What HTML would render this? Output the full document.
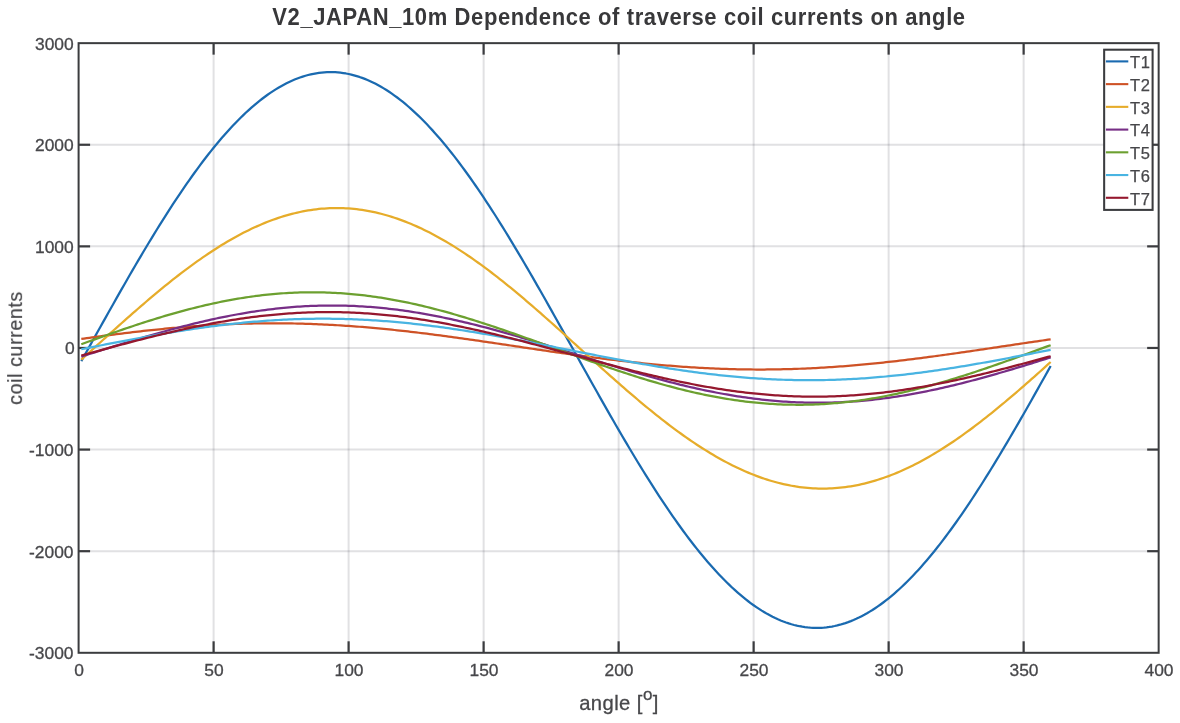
<!DOCTYPE html><html><head><meta charset="utf-8"><title>chart</title><style>
html,body{margin:0;padding:0;background:#fff;}body{width:1180px;height:723px;position:relative;overflow:hidden;font-family:"Liberation Sans",sans-serif;color:#47474a;}
.t{position:absolute;white-space:nowrap;line-height:1;will-change:transform;}
.xt{font-size:17.4px;transform:translateX(-50%);top:662.0px;-webkit-text-stroke:0.3px currentColor;}
.yt{font-size:17.4px;-webkit-text-stroke:0.3px currentColor;text-align:right;right:1106.5px;transform:translateY(-50%);}
.lg{font-size:16.5px;letter-spacing:0.7px;-webkit-text-stroke:0.25px currentColor;left:1129.6px;transform:translateY(-50%);}
</style></head><body>
<svg width="1180" height="723" viewBox="0 0 1180 723" style="position:absolute;left:0;top:0">
<rect x="0" y="0" width="1180" height="723" fill="#fff"/>
<line x1="213.61" y1="43.15" x2="213.61" y2="652.80" stroke="rgba(40,44,56,0.14)" stroke-width="2"/>
<line x1="348.61" y1="43.15" x2="348.61" y2="652.80" stroke="rgba(40,44,56,0.14)" stroke-width="2"/>
<line x1="483.62" y1="43.15" x2="483.62" y2="652.80" stroke="rgba(40,44,56,0.14)" stroke-width="2"/>
<line x1="618.63" y1="43.15" x2="618.63" y2="652.80" stroke="rgba(40,44,56,0.14)" stroke-width="2"/>
<line x1="753.63" y1="43.15" x2="753.63" y2="652.80" stroke="rgba(40,44,56,0.14)" stroke-width="2"/>
<line x1="888.64" y1="43.15" x2="888.64" y2="652.80" stroke="rgba(40,44,56,0.14)" stroke-width="2"/>
<line x1="1023.64" y1="43.15" x2="1023.64" y2="652.80" stroke="rgba(40,44,56,0.14)" stroke-width="2"/>
<line x1="78.60" y1="551.19" x2="1158.65" y2="551.19" stroke="rgba(40,44,56,0.14)" stroke-width="2"/>
<line x1="78.60" y1="449.58" x2="1158.65" y2="449.58" stroke="rgba(40,44,56,0.14)" stroke-width="2"/>
<line x1="78.60" y1="347.97" x2="1158.65" y2="347.97" stroke="rgba(40,44,56,0.14)" stroke-width="2"/>
<line x1="78.60" y1="246.37" x2="1158.65" y2="246.37" stroke="rgba(40,44,56,0.14)" stroke-width="2"/>
<line x1="78.60" y1="144.76" x2="1158.65" y2="144.76" stroke="rgba(40,44,56,0.14)" stroke-width="2"/>
<line x1="213.61" y1="43.15" x2="213.61" y2="54.65" stroke="#3b3c3f" stroke-width="2.2"/>
<line x1="213.61" y1="652.80" x2="213.61" y2="641.30" stroke="#3b3c3f" stroke-width="2.2"/>
<line x1="348.61" y1="43.15" x2="348.61" y2="54.65" stroke="#3b3c3f" stroke-width="2.2"/>
<line x1="348.61" y1="652.80" x2="348.61" y2="641.30" stroke="#3b3c3f" stroke-width="2.2"/>
<line x1="483.62" y1="43.15" x2="483.62" y2="54.65" stroke="#3b3c3f" stroke-width="2.2"/>
<line x1="483.62" y1="652.80" x2="483.62" y2="641.30" stroke="#3b3c3f" stroke-width="2.2"/>
<line x1="618.63" y1="43.15" x2="618.63" y2="54.65" stroke="#3b3c3f" stroke-width="2.2"/>
<line x1="618.63" y1="652.80" x2="618.63" y2="641.30" stroke="#3b3c3f" stroke-width="2.2"/>
<line x1="753.63" y1="43.15" x2="753.63" y2="54.65" stroke="#3b3c3f" stroke-width="2.2"/>
<line x1="753.63" y1="652.80" x2="753.63" y2="641.30" stroke="#3b3c3f" stroke-width="2.2"/>
<line x1="888.64" y1="43.15" x2="888.64" y2="54.65" stroke="#3b3c3f" stroke-width="2.2"/>
<line x1="888.64" y1="652.80" x2="888.64" y2="641.30" stroke="#3b3c3f" stroke-width="2.2"/>
<line x1="1023.64" y1="43.15" x2="1023.64" y2="54.65" stroke="#3b3c3f" stroke-width="2.2"/>
<line x1="1023.64" y1="652.80" x2="1023.64" y2="641.30" stroke="#3b3c3f" stroke-width="2.2"/>
<line x1="78.60" y1="551.19" x2="90.10" y2="551.19" stroke="#3b3c3f" stroke-width="2.2"/>
<line x1="1158.65" y1="551.19" x2="1147.15" y2="551.19" stroke="#3b3c3f" stroke-width="2.2"/>
<line x1="78.60" y1="449.58" x2="90.10" y2="449.58" stroke="#3b3c3f" stroke-width="2.2"/>
<line x1="1158.65" y1="449.58" x2="1147.15" y2="449.58" stroke="#3b3c3f" stroke-width="2.2"/>
<line x1="78.60" y1="347.97" x2="90.10" y2="347.97" stroke="#3b3c3f" stroke-width="2.2"/>
<line x1="1158.65" y1="347.97" x2="1147.15" y2="347.97" stroke="#3b3c3f" stroke-width="2.2"/>
<line x1="78.60" y1="246.37" x2="90.10" y2="246.37" stroke="#3b3c3f" stroke-width="2.2"/>
<line x1="1158.65" y1="246.37" x2="1147.15" y2="246.37" stroke="#3b3c3f" stroke-width="2.2"/>
<line x1="78.60" y1="144.76" x2="90.10" y2="144.76" stroke="#3b3c3f" stroke-width="2.2"/>
<line x1="1158.65" y1="144.76" x2="1147.15" y2="144.76" stroke="#3b3c3f" stroke-width="2.2"/>
<rect x="78.60" y="43.15" width="1080.05" height="609.65" fill="none" stroke="#3b3c3f" stroke-width="2.0"/>
<polyline points="81.30,361.16 84.00,356.31 86.70,351.46 89.40,346.61 92.10,341.76 94.80,336.92 97.50,332.07 100.20,327.24 102.90,322.41 105.60,317.58 108.30,312.77 111.00,307.97 113.70,303.18 116.40,298.41 119.10,293.65 121.80,288.91 124.50,284.19 127.20,279.49 129.90,274.81 132.60,270.15 135.30,265.52 138.00,260.91 140.70,256.33 143.40,251.78 146.10,247.25 148.80,242.76 151.50,238.31 154.20,233.88 156.90,229.49 159.60,225.14 162.30,220.83 165.00,216.55 167.70,212.32 170.40,208.13 173.10,203.98 175.80,199.88 178.50,195.82 181.20,191.81 183.90,187.84 186.61,183.93 189.31,180.06 192.01,176.25 194.71,172.49 197.41,168.79 200.11,165.14 202.81,161.55 205.51,158.01 208.21,154.53 210.91,151.12 213.61,147.76 216.31,144.46 219.01,141.23 221.71,138.06 224.41,134.96 227.11,131.92 229.81,128.95 232.51,126.04 235.21,123.20 237.91,120.44 240.61,117.74 243.31,115.11 246.01,112.55 248.71,110.07 251.41,107.66 254.11,105.32 256.81,103.06 259.51,100.87 262.21,98.76 264.91,96.73 267.61,94.77 270.31,92.89 273.01,91.09 275.71,89.37 278.41,87.73 281.11,86.16 283.81,84.68 286.51,83.28 289.21,81.96 291.91,80.72 294.61,79.56 297.31,78.49 300.01,77.50 302.71,76.59 305.41,75.76 308.11,75.02 310.81,74.36 313.51,73.79 316.21,73.30 318.91,72.89 321.61,72.57 324.31,72.33 327.01,72.18 329.71,72.11 332.41,72.13 335.11,72.23 337.81,72.42 340.51,72.69 343.21,73.04 345.91,73.48 348.61,74.01 351.31,74.61 354.01,75.31 356.71,76.08 359.41,76.94 362.11,77.88 364.81,78.91 367.51,80.01 370.21,81.20 372.91,82.48 375.61,83.83 378.31,85.26 381.01,86.78 383.71,88.37 386.41,90.05 389.11,91.80 391.81,93.63 394.51,95.55 397.21,97.53 399.91,99.60 402.62,101.74 405.32,103.96 408.02,106.25 410.72,108.62 413.42,111.06 416.12,113.57 418.82,116.15 421.52,118.81 424.22,121.53 426.92,124.33 429.62,127.19 432.32,130.13 435.02,133.13 437.72,136.19 440.42,139.32 443.12,142.52 445.82,145.78 448.52,149.10 451.22,152.48 453.92,155.92 456.62,159.42 459.32,162.98 462.02,166.59 464.72,170.27 467.42,173.99 470.12,177.77 472.82,181.60 475.52,185.49 478.22,189.42 480.92,193.40 483.62,197.43 486.32,201.51 489.02,205.63 491.72,209.80 494.42,214.01 497.12,218.26 499.82,222.55 502.52,226.88 505.22,231.24 507.92,235.65 510.62,240.09 513.32,244.56 516.02,249.06 518.72,253.59 521.42,258.16 524.12,262.75 526.82,267.37 529.52,272.01 532.22,276.68 534.92,281.37 537.62,286.08 540.32,290.81 543.02,295.55 545.72,300.32 548.42,305.10 551.12,309.89 553.82,314.70 556.52,319.51 559.22,324.34 561.92,329.17 564.62,334.01 567.32,338.85 570.02,343.70 572.72,348.55 575.42,353.40 578.12,358.25 580.82,363.10 583.52,367.94 586.22,372.78 588.92,377.61 591.62,382.43 594.32,387.24 597.02,392.04 599.72,396.83 602.42,401.60 605.12,406.36 607.82,411.10 610.52,415.82 613.22,420.53 615.92,425.21 618.63,429.86 621.33,434.50 624.03,439.11 626.73,443.69 629.43,448.24 632.13,452.76 634.83,457.25 637.53,461.71 640.23,466.13 642.93,470.52 645.63,474.87 648.33,479.19 651.03,483.46 653.73,487.69 656.43,491.89 659.13,496.04 661.83,500.14 664.53,504.20 667.23,508.21 669.93,512.17 672.63,516.09 675.33,519.95 678.03,523.76 680.73,527.52 683.43,531.22 686.13,534.87 688.83,538.47 691.53,542.00 694.23,545.48 696.93,548.90 699.63,552.25 702.33,555.55 705.03,558.78 707.73,561.95 710.43,565.06 713.13,568.10 715.83,571.07 718.53,573.97 721.23,576.81 723.93,579.58 726.63,582.28 729.33,584.90 732.03,587.46 734.73,589.94 737.43,592.35 740.13,594.69 742.83,596.95 745.53,599.14 748.23,601.25 750.93,603.29 753.63,605.24 756.33,607.12 759.03,608.92 761.73,610.65 764.43,612.29 767.13,613.85 769.83,615.33 772.53,616.74 775.23,618.06 777.93,619.30 780.63,620.45 783.33,621.53 786.03,622.52 788.73,623.43 791.43,624.25 794.13,625.00 796.83,625.65 799.53,626.23 802.23,626.72 804.93,627.12 807.63,627.45 810.33,627.68 813.03,627.83 815.73,627.90 818.43,627.89 821.13,627.78 823.83,627.60 826.53,627.33 829.23,626.97 831.93,626.53 834.64,626.01 837.34,625.40 840.04,624.71 842.74,623.93 845.44,623.07 848.14,622.13 850.84,621.11 853.54,620.00 856.24,618.81 858.94,617.54 861.64,616.18 864.34,614.75 867.04,613.24 869.74,611.64 872.44,609.97 875.14,608.21 877.84,606.38 880.54,604.47 883.24,602.48 885.94,600.42 888.64,598.27 891.34,596.06 894.04,593.77 896.74,591.40 899.44,588.96 902.14,586.45 904.84,583.86 907.54,581.21 910.24,578.48 912.94,575.68 915.64,572.82 918.34,569.89 921.04,566.89 923.74,563.82 926.44,560.69 929.14,557.50 931.84,554.24 934.54,550.92 937.24,547.54 939.94,544.10 942.64,540.60 945.34,537.04 948.04,533.42 950.74,529.75 953.44,526.02 956.14,522.24 958.84,518.41 961.54,514.53 964.24,510.59 966.94,506.61 969.64,502.58 972.34,498.50 975.04,494.38 977.74,490.21 980.44,486.01 983.14,481.76 985.84,477.47 988.54,473.14 991.24,468.77 993.94,464.37 996.64,459.93 999.34,455.46 1002.04,450.95 1004.74,446.42 1007.44,441.86 1010.14,437.27 1012.84,432.65 1015.54,428.00 1018.24,423.34 1020.94,418.65 1023.64,413.94 1026.34,409.21 1029.04,404.46 1031.74,399.70 1034.44,394.92 1037.14,390.12 1039.84,385.32 1042.54,380.50 1045.24,375.68 1047.94,370.84 1050.65,366.00" fill="none" stroke="#1A6AB0" stroke-width="2.25" stroke-linejoin="round"/>
<polyline points="81.30,338.95 84.00,338.57 86.70,338.19 89.40,337.82 92.10,337.44 94.80,337.07 97.50,336.70 100.20,336.34 102.90,335.98 105.60,335.62 108.30,335.26 111.00,334.91 113.70,334.56 116.40,334.22 119.10,333.88 121.80,333.54 124.50,333.21 127.20,332.88 129.90,332.55 132.60,332.23 135.30,331.92 138.00,331.60 140.70,331.30 143.40,330.99 146.10,330.69 148.80,330.40 151.50,330.11 154.20,329.83 156.90,329.55 159.60,329.28 162.30,329.01 165.00,328.74 167.70,328.49 170.40,328.23 173.10,327.99 175.80,327.75 178.50,327.51 181.20,327.28 183.90,327.06 186.61,326.84 189.31,326.63 192.01,326.42 194.71,326.22 197.41,326.03 200.11,325.84 202.81,325.66 205.51,325.48 208.21,325.32 210.91,325.15 213.61,325.00 216.31,324.85 219.01,324.71 221.71,324.57 224.41,324.44 227.11,324.32 229.81,324.20 232.51,324.09 235.21,323.99 237.91,323.89 240.61,323.81 243.31,323.72 246.01,323.65 248.71,323.58 251.41,323.52 254.11,323.47 256.81,323.42 259.51,323.38 262.21,323.35 264.91,323.32 267.61,323.30 270.31,323.29 273.01,323.28 275.71,323.29 278.41,323.30 281.11,323.31 283.81,323.33 286.51,323.37 289.21,323.40 291.91,323.45 294.61,323.50 297.31,323.56 300.01,323.62 302.71,323.69 305.41,323.77 308.11,323.86 310.81,323.95 313.51,324.05 316.21,324.16 318.91,324.27 321.61,324.39 324.31,324.52 327.01,324.65 329.71,324.79 332.41,324.94 335.11,325.09 337.81,325.25 340.51,325.42 343.21,325.59 345.91,325.77 348.61,325.95 351.31,326.14 354.01,326.34 356.71,326.54 359.41,326.75 362.11,326.97 364.81,327.19 367.51,327.42 370.21,327.65 372.91,327.89 375.61,328.13 378.31,328.38 381.01,328.64 383.71,328.90 386.41,329.17 389.11,329.44 391.81,329.72 394.51,330.00 397.21,330.28 399.91,330.58 402.62,330.87 405.32,331.17 408.02,331.48 410.72,331.79 413.42,332.11 416.12,332.42 418.82,332.75 421.52,333.08 424.22,333.41 426.92,333.74 429.62,334.08 432.32,334.43 435.02,334.77 437.72,335.12 440.42,335.48 443.12,335.83 445.82,336.19 448.52,336.56 451.22,336.92 453.92,337.29 456.62,337.67 459.32,338.04 462.02,338.42 464.72,338.80 467.42,339.18 470.12,339.56 472.82,339.95 475.52,340.34 478.22,340.73 480.92,341.12 483.62,341.52 486.32,341.91 489.02,342.31 491.72,342.70 494.42,343.10 497.12,343.50 499.82,343.90 502.52,344.31 505.22,344.71 507.92,345.11 510.62,345.51 513.32,345.92 516.02,346.32 518.72,346.72 521.42,347.13 524.12,347.53 526.82,347.93 529.52,348.33 532.22,348.74 534.92,349.14 537.62,349.54 540.32,349.94 543.02,350.33 545.72,350.73 548.42,351.13 551.12,351.52 553.82,351.91 556.52,352.30 559.22,352.69 561.92,353.08 564.62,353.47 567.32,353.85 570.02,354.23 572.72,354.61 575.42,354.98 578.12,355.36 580.82,355.73 583.52,356.10 586.22,356.46 588.92,356.82 591.62,357.18 594.32,357.54 597.02,357.89 599.72,358.24 602.42,358.58 605.12,358.92 607.82,359.26 610.52,359.59 613.22,359.92 615.92,360.25 618.63,360.57 621.33,360.88 624.03,361.20 626.73,361.50 629.43,361.81 632.13,362.11 634.83,362.40 637.53,362.69 640.23,362.97 642.93,363.25 645.63,363.52 648.33,363.79 651.03,364.06 653.73,364.31 656.43,364.57 659.13,364.81 661.83,365.05 664.53,365.29 667.23,365.52 669.93,365.74 672.63,365.96 675.33,366.17 678.03,366.38 680.73,366.58 683.43,366.77 686.13,366.96 688.83,367.14 691.53,367.32 694.23,367.48 696.93,367.65 699.63,367.80 702.33,367.95 705.03,368.09 707.73,368.23 710.43,368.36 713.13,368.48 715.83,368.60 718.53,368.71 721.23,368.81 723.93,368.91 726.63,368.99 729.33,369.08 732.03,369.15 734.73,369.22 737.43,369.28 740.13,369.33 742.83,369.38 745.53,369.42 748.23,369.45 750.93,369.48 753.63,369.50 756.33,369.51 759.03,369.52 761.73,369.51 764.43,369.50 767.13,369.49 769.83,369.47 772.53,369.43 775.23,369.40 777.93,369.35 780.63,369.30 783.33,369.24 786.03,369.18 788.73,369.11 791.43,369.03 794.13,368.94 796.83,368.85 799.53,368.75 802.23,368.64 804.93,368.53 807.63,368.41 810.33,368.28 813.03,368.15 815.73,368.01 818.43,367.86 821.13,367.71 823.83,367.55 826.53,367.38 829.23,367.21 831.93,367.03 834.64,366.85 837.34,366.66 840.04,366.46 842.74,366.26 845.44,366.05 848.14,365.83 850.84,365.61 853.54,365.38 856.24,365.15 858.94,364.91 861.64,364.67 864.34,364.42 867.04,364.16 869.74,363.90 872.44,363.63 875.14,363.36 877.84,363.08 880.54,362.80 883.24,362.52 885.94,362.22 888.64,361.93 891.34,361.63 894.04,361.32 896.74,361.01 899.44,360.70 902.14,360.38 904.84,360.05 907.54,359.72 910.24,359.39 912.94,359.06 915.64,358.72 918.34,358.37 921.04,358.03 923.74,357.68 926.44,357.32 929.14,356.97 931.84,356.61 934.54,356.24 937.24,355.88 939.94,355.51 942.64,355.13 945.34,354.76 948.04,354.38 950.74,354.00 953.44,353.62 956.14,353.24 958.84,352.85 961.54,352.46 964.24,352.07 966.94,351.68 969.64,351.29 972.34,350.89 975.04,350.49 977.74,350.10 980.44,349.70 983.14,349.30 985.84,348.90 988.54,348.50 991.24,348.09 993.94,347.69 996.64,347.29 999.34,346.88 1002.04,346.48 1004.74,346.08 1007.44,345.67 1010.14,345.27 1012.84,344.87 1015.54,344.47 1018.24,344.06 1020.94,343.66 1023.64,343.26 1026.34,342.86 1029.04,342.47 1031.74,342.07 1034.44,341.67 1037.14,341.28 1039.84,340.89 1042.54,340.50 1045.24,340.11 1047.94,339.72 1050.65,339.33" fill="none" stroke="#CE5226" stroke-width="2.25" stroke-linejoin="round"/>
<polyline points="81.30,359.58 84.00,357.14 86.70,354.69 89.40,352.25 92.10,349.80 94.80,347.35 97.50,344.90 100.20,342.46 102.90,340.01 105.60,337.57 108.30,335.13 111.00,332.69 113.70,330.26 116.40,327.84 119.10,325.42 121.80,323.01 124.50,320.61 127.20,318.21 129.90,315.82 132.60,313.45 135.30,311.08 138.00,308.73 140.70,306.38 143.40,304.05 146.10,301.74 148.80,299.44 151.50,297.15 154.20,294.88 156.90,292.62 159.60,290.38 162.30,288.16 165.00,285.96 167.70,283.78 170.40,281.61 173.10,279.47 175.80,277.35 178.50,275.25 181.20,273.17 183.90,271.11 186.61,269.08 189.31,267.07 192.01,265.09 194.71,263.13 197.41,261.20 200.11,259.30 202.81,257.42 205.51,255.57 208.21,253.75 210.91,251.95 213.61,250.19 216.31,248.45 219.01,246.75 221.71,245.08 224.41,243.44 227.11,241.83 229.81,240.25 232.51,238.71 235.21,237.20 237.91,235.72 240.61,234.28 243.31,232.87 246.01,231.50 248.71,230.16 251.41,228.86 254.11,227.59 256.81,226.37 259.51,225.18 262.21,224.02 264.91,222.91 267.61,221.83 270.31,220.79 273.01,219.79 275.71,218.83 278.41,217.91 281.11,217.03 283.81,216.19 286.51,215.39 289.21,214.63 291.91,213.91 294.61,213.23 297.31,212.59 300.01,211.99 302.71,211.44 305.41,210.93 308.11,210.45 310.81,210.02 313.51,209.64 316.21,209.29 318.91,208.99 321.61,208.73 324.31,208.51 327.01,208.34 329.71,208.20 332.41,208.12 335.11,208.07 337.81,208.06 340.51,208.10 343.21,208.18 345.91,208.31 348.61,208.47 351.31,208.68 354.01,208.93 356.71,209.23 359.41,209.57 362.11,209.94 364.81,210.36 367.51,210.83 370.21,211.33 372.91,211.88 375.61,212.47 378.31,213.10 381.01,213.77 383.71,214.48 386.41,215.23 389.11,216.02 391.81,216.86 394.51,217.73 397.21,218.64 399.91,219.60 402.62,220.59 405.32,221.62 408.02,222.69 410.72,223.80 413.42,224.94 416.12,226.13 418.82,227.35 421.52,228.60 424.22,229.90 426.92,231.23 429.62,232.59 432.32,233.99 435.02,235.43 437.72,236.90 440.42,238.40 443.12,239.94 445.82,241.51 448.52,243.11 451.22,244.75 453.92,246.41 456.62,248.11 459.32,249.84 462.02,251.60 464.72,253.39 467.42,255.20 470.12,257.05 472.82,258.92 475.52,260.82 478.22,262.75 480.92,264.70 483.62,266.68 486.32,268.68 489.02,270.71 491.72,272.76 494.42,274.83 497.12,276.93 499.82,279.05 502.52,281.18 505.22,283.34 507.92,285.52 510.62,287.72 513.32,289.94 516.02,292.17 518.72,294.43 521.42,296.69 524.12,298.98 526.82,301.28 529.52,303.59 532.22,305.92 534.92,308.26 537.62,310.61 540.32,312.97 543.02,315.35 545.72,317.73 548.42,320.13 551.12,322.53 553.82,324.94 556.52,327.36 559.22,329.78 561.92,332.21 564.62,334.64 567.32,337.08 570.02,339.52 572.72,341.97 575.42,344.41 578.12,346.86 580.82,349.31 583.52,351.76 586.22,354.20 588.92,356.65 591.62,359.09 594.32,361.53 597.02,363.97 599.72,366.40 602.42,368.82 605.12,371.24 607.82,373.65 610.52,376.06 613.22,378.45 615.92,380.84 618.63,383.21 621.33,385.58 624.03,387.93 626.73,390.28 629.43,392.61 632.13,394.92 634.83,397.22 637.53,399.51 640.23,401.78 642.93,404.04 645.63,406.28 648.33,408.50 651.03,410.70 653.73,412.88 656.43,415.05 659.13,417.19 661.83,419.31 664.53,421.41 667.23,423.49 669.93,425.55 672.63,427.58 675.33,429.59 678.03,431.57 680.73,433.53 683.43,435.46 686.13,437.36 688.83,439.24 691.53,441.09 694.23,442.92 696.93,444.71 699.63,446.47 702.33,448.21 705.03,449.91 707.73,451.58 710.43,453.22 713.13,454.83 715.83,456.41 718.53,457.95 721.23,459.47 723.93,460.94 726.63,462.38 729.33,463.79 732.03,465.16 734.73,466.50 737.43,467.80 740.13,469.07 742.83,470.29 745.53,471.49 748.23,472.64 750.93,473.75 753.63,474.83 756.33,475.87 759.03,476.87 761.73,477.83 764.43,478.75 767.13,479.63 769.83,480.47 772.53,481.27 775.23,482.03 777.93,482.75 780.63,483.43 783.33,484.07 786.03,484.67 788.73,485.22 791.43,485.74 794.13,486.21 796.83,486.64 799.53,487.02 802.23,487.37 804.93,487.67 807.63,487.93 810.33,488.15 813.03,488.32 815.73,488.46 818.43,488.55 821.13,488.59 823.83,488.60 826.53,488.56 829.23,488.48 831.93,488.35 834.64,488.19 837.34,487.98 840.04,487.73 842.74,487.43 845.44,487.10 848.14,486.72 850.84,486.30 853.54,485.83 856.24,485.33 858.94,484.78 861.64,484.19 864.34,483.56 867.04,482.89 869.74,482.18 872.44,481.43 875.14,480.64 877.84,479.80 880.54,478.93 883.24,478.02 885.94,477.06 888.64,476.07 891.34,475.04 894.04,473.97 896.74,472.86 899.44,471.72 902.14,470.54 904.84,469.32 907.54,468.06 910.24,466.76 912.94,465.43 915.64,464.07 918.34,462.67 921.04,461.23 923.74,459.76 926.44,458.26 929.14,456.72 931.84,455.15 934.54,453.55 937.24,451.91 939.94,450.25 942.64,448.55 945.34,446.82 948.04,445.06 950.74,443.28 953.44,441.46 956.14,439.61 958.84,437.74 961.54,435.84 964.24,433.92 966.94,431.96 969.64,429.99 972.34,427.98 975.04,425.96 977.74,423.90 980.44,421.83 983.14,419.73 985.84,417.62 988.54,415.48 991.24,413.32 993.94,411.14 996.64,408.94 999.34,406.72 1002.04,404.49 1004.74,402.24 1007.44,399.97 1010.14,397.68 1012.84,395.38 1015.54,393.07 1018.24,390.74 1020.94,388.40 1023.64,386.05 1026.34,383.69 1029.04,381.31 1031.74,378.93 1034.44,376.54 1037.14,374.13 1039.84,371.72 1042.54,369.31 1045.24,366.88 1047.94,364.45 1050.65,362.02" fill="none" stroke="#E6AC2A" stroke-width="2.25" stroke-linejoin="round"/>
<polyline points="81.30,356.58 84.00,355.73 86.70,354.89 89.40,354.04 92.10,353.19 94.80,352.34 97.50,351.49 100.20,350.65 102.90,349.80 105.60,348.96 108.30,348.11 111.00,347.27 113.70,346.43 116.40,345.60 119.10,344.76 121.80,343.93 124.50,343.10 127.20,342.28 129.90,341.46 132.60,340.64 135.30,339.83 138.00,339.02 140.70,338.21 143.40,337.41 146.10,336.62 148.80,335.83 151.50,335.05 154.20,334.27 156.90,333.50 159.60,332.73 162.30,331.97 165.00,331.22 167.70,330.48 170.40,329.74 173.10,329.01 175.80,328.29 178.50,327.57 181.20,326.86 183.90,326.17 186.61,325.48 189.31,324.79 192.01,324.12 194.71,323.46 197.41,322.81 200.11,322.16 202.81,321.53 205.51,320.90 208.21,320.29 210.91,319.68 213.61,319.09 216.31,318.51 219.01,317.93 221.71,317.37 224.41,316.82 227.11,316.28 229.81,315.76 232.51,315.24 235.21,314.74 237.91,314.25 240.61,313.77 243.31,313.30 246.01,312.85 248.71,312.40 251.41,311.97 254.11,311.56 256.81,311.15 259.51,310.76 262.21,310.39 264.91,310.02 267.61,309.67 270.31,309.33 273.01,309.01 275.71,308.70 278.41,308.41 281.11,308.12 283.81,307.86 286.51,307.60 289.21,307.36 291.91,307.14 294.61,306.93 297.31,306.73 300.01,306.55 302.71,306.38 305.41,306.23 308.11,306.09 310.81,305.96 313.51,305.85 316.21,305.76 318.91,305.68 321.61,305.62 324.31,305.56 327.01,305.53 329.71,305.51 332.41,305.50 335.11,305.51 337.81,305.54 340.51,305.57 343.21,305.63 345.91,305.70 348.61,305.78 351.31,305.88 354.01,305.99 356.71,306.11 359.41,306.26 362.11,306.41 364.81,306.58 367.51,306.77 370.21,306.97 372.91,307.18 375.61,307.41 378.31,307.65 381.01,307.91 383.71,308.18 386.41,308.46 389.11,308.76 391.81,309.07 394.51,309.40 397.21,309.74 399.91,310.09 402.62,310.46 405.32,310.84 408.02,311.23 410.72,311.64 413.42,312.06 416.12,312.49 418.82,312.94 421.52,313.39 424.22,313.86 426.92,314.34 429.62,314.84 432.32,315.34 435.02,315.86 437.72,316.39 440.42,316.93 443.12,317.48 445.82,318.05 448.52,318.62 451.22,319.21 453.92,319.80 456.62,320.41 459.32,321.03 462.02,321.65 464.72,322.29 467.42,322.94 470.12,323.59 472.82,324.26 475.52,324.93 478.22,325.61 480.92,326.30 483.62,327.00 486.32,327.71 489.02,328.43 491.72,329.15 494.42,329.89 497.12,330.63 499.82,331.37 502.52,332.13 505.22,332.89 507.92,333.65 510.62,334.42 513.32,335.20 516.02,335.99 518.72,336.78 521.42,337.57 524.12,338.37 526.82,339.18 529.52,339.99 532.22,340.80 534.92,341.62 537.62,342.44 540.32,343.27 543.02,344.10 545.72,344.93 548.42,345.76 551.12,346.60 553.82,347.44 556.52,348.28 559.22,349.12 561.92,349.97 564.62,350.82 567.32,351.66 570.02,352.51 572.72,353.36 575.42,354.21 578.12,355.06 580.82,355.90 583.52,356.75 586.22,357.60 588.92,358.44 591.62,359.29 594.32,360.13 597.02,360.97 599.72,361.81 602.42,362.65 605.12,363.48 607.82,364.31 610.52,365.14 613.22,365.97 615.92,366.79 618.63,367.61 621.33,368.42 624.03,369.23 626.73,370.03 629.43,370.83 632.13,371.63 634.83,372.41 637.53,373.20 640.23,373.98 642.93,374.75 645.63,375.51 648.33,376.27 651.03,377.02 653.73,377.77 656.43,378.51 659.13,379.24 661.83,379.96 664.53,380.67 667.23,381.38 669.93,382.08 672.63,382.77 675.33,383.45 678.03,384.12 680.73,384.79 683.43,385.44 686.13,386.08 688.83,386.72 691.53,387.34 694.23,387.96 696.93,388.56 699.63,389.16 702.33,389.74 705.03,390.31 707.73,390.87 710.43,391.42 713.13,391.96 715.83,392.49 718.53,393.00 721.23,393.51 723.93,394.00 726.63,394.48 729.33,394.94 732.03,395.40 734.73,395.84 737.43,396.27 740.13,396.69 742.83,397.09 745.53,397.48 748.23,397.86 750.93,398.22 753.63,398.57 756.33,398.91 759.03,399.23 761.73,399.54 764.43,399.84 767.13,400.12 769.83,400.39 772.53,400.64 775.23,400.88 777.93,401.11 780.63,401.32 783.33,401.51 786.03,401.70 788.73,401.86 791.43,402.02 794.13,402.16 796.83,402.28 799.53,402.39 802.23,402.48 804.93,402.56 807.63,402.63 810.33,402.68 813.03,402.72 815.73,402.74 818.43,402.74 821.13,402.73 823.83,402.71 826.53,402.67 829.23,402.62 831.93,402.55 834.64,402.47 837.34,402.37 840.04,402.26 842.74,402.13 845.44,401.99 848.14,401.83 850.84,401.66 853.54,401.48 856.24,401.28 858.94,401.06 861.64,400.83 864.34,400.59 867.04,400.34 869.74,400.07 872.44,399.78 875.14,399.48 877.84,399.17 880.54,398.84 883.24,398.50 885.94,398.15 888.64,397.78 891.34,397.40 894.04,397.01 896.74,396.60 899.44,396.19 902.14,395.75 904.84,395.31 907.54,394.85 910.24,394.38 912.94,393.90 915.64,393.41 918.34,392.90 921.04,392.38 923.74,391.85 926.44,391.31 929.14,390.76 931.84,390.20 934.54,389.62 937.24,389.04 939.94,388.44 942.64,387.84 945.34,387.22 948.04,386.59 950.74,385.96 953.44,385.31 956.14,384.65 958.84,383.99 961.54,383.31 964.24,382.63 966.94,381.94 969.64,381.24 972.34,380.53 975.04,379.81 977.74,379.09 980.44,378.36 983.14,377.62 985.84,376.87 988.54,376.12 991.24,375.36 993.94,374.59 996.64,373.82 999.34,373.04 1002.04,372.26 1004.74,371.47 1007.44,370.67 1010.14,369.87 1012.84,369.07 1015.54,368.26 1018.24,367.44 1020.94,366.62 1023.64,365.80 1026.34,364.98 1029.04,364.15 1031.74,363.32 1034.44,362.48 1037.14,361.64 1039.84,360.80 1042.54,359.96 1045.24,359.12 1047.94,358.28 1050.65,357.43" fill="none" stroke="#772E86" stroke-width="2.25" stroke-linejoin="round"/>
<polyline points="81.30,344.22 84.00,343.24 86.70,342.26 89.40,341.29 92.10,340.32 94.80,339.35 97.50,338.38 100.20,337.42 102.90,336.46 105.60,335.50 108.30,334.55 111.00,333.60 113.70,332.65 116.40,331.72 119.10,330.78 121.80,329.85 124.50,328.93 127.20,328.01 129.90,327.10 132.60,326.20 135.30,325.30 138.00,324.41 140.70,323.53 143.40,322.65 146.10,321.78 148.80,320.93 151.50,320.07 154.20,319.23 156.90,318.40 159.60,317.57 162.30,316.76 165.00,315.95 167.70,315.16 170.40,314.37 173.10,313.60 175.80,312.84 178.50,312.08 181.20,311.34 183.90,310.61 186.61,309.89 189.31,309.18 192.01,308.49 194.71,307.81 197.41,307.14 200.11,306.48 202.81,305.83 205.51,305.20 208.21,304.58 210.91,303.98 213.61,303.38 216.31,302.80 219.01,302.24 221.71,301.69 224.41,301.15 227.11,300.63 229.81,300.13 232.51,299.63 235.21,299.16 237.91,298.69 240.61,298.25 243.31,297.81 246.01,297.40 248.71,297.00 251.41,296.61 254.11,296.24 256.81,295.89 259.51,295.55 262.21,295.23 264.91,294.93 267.61,294.64 270.31,294.37 273.01,294.11 275.71,293.87 278.41,293.65 281.11,293.44 283.81,293.25 286.51,293.08 289.21,292.93 291.91,292.79 294.61,292.67 297.31,292.56 300.01,292.47 302.71,292.40 305.41,292.35 308.11,292.32 310.81,292.30 313.51,292.30 316.21,292.31 318.91,292.34 321.61,292.39 324.31,292.46 327.01,292.54 329.71,292.64 332.41,292.76 335.11,292.90 337.81,293.05 340.51,293.22 343.21,293.40 345.91,293.61 348.61,293.82 351.31,294.06 354.01,294.31 356.71,294.58 359.41,294.87 362.11,295.17 364.81,295.49 367.51,295.82 370.21,296.17 372.91,296.54 375.61,296.92 378.31,297.32 381.01,297.73 383.71,298.16 386.41,298.60 389.11,299.06 391.81,299.54 394.51,300.03 397.21,300.53 399.91,301.05 402.62,301.58 405.32,302.13 408.02,302.69 410.72,303.27 413.42,303.86 416.12,304.46 418.82,305.08 421.52,305.70 424.22,306.35 426.92,307.00 429.62,307.67 432.32,308.35 435.02,309.04 437.72,309.75 440.42,310.47 443.12,311.19 445.82,311.93 448.52,312.68 451.22,313.45 453.92,314.22 456.62,315.00 459.32,315.80 462.02,316.60 464.72,317.41 467.42,318.23 470.12,319.06 472.82,319.91 475.52,320.75 478.22,321.61 480.92,322.48 483.62,323.35 486.32,324.23 489.02,325.12 491.72,326.02 494.42,326.92 497.12,327.83 499.82,328.75 502.52,329.67 505.22,330.60 507.92,331.53 510.62,332.47 513.32,333.41 516.02,334.36 518.72,335.31 521.42,336.27 524.12,337.23 526.82,338.19 529.52,339.15 532.22,340.12 534.92,341.10 537.62,342.07 540.32,343.05 543.02,344.02 545.72,345.00 548.42,345.98 551.12,346.96 553.82,347.94 556.52,348.93 559.22,349.91 561.92,350.89 564.62,351.87 567.32,352.85 570.02,353.83 572.72,354.80 575.42,355.78 578.12,356.75 580.82,357.72 583.52,358.69 586.22,359.65 588.92,360.61 591.62,361.57 594.32,362.52 597.02,363.47 599.72,364.41 602.42,365.35 605.12,366.29 607.82,367.21 610.52,368.14 613.22,369.05 615.92,369.97 618.63,370.87 621.33,371.77 624.03,372.66 626.73,373.54 629.43,374.42 632.13,375.28 634.83,376.14 637.53,376.99 640.23,377.84 642.93,378.67 645.63,379.49 648.33,380.31 651.03,381.11 653.73,381.91 656.43,382.69 659.13,383.47 661.83,384.23 664.53,384.98 667.23,385.73 669.93,386.46 672.63,387.18 675.33,387.88 678.03,388.58 680.73,389.26 683.43,389.93 686.13,390.59 688.83,391.24 691.53,391.87 694.23,392.49 696.93,393.09 699.63,393.68 702.33,394.26 705.03,394.83 707.73,395.38 710.43,395.91 713.13,396.44 715.83,396.94 718.53,397.43 721.23,397.91 723.93,398.37 726.63,398.82 729.33,399.25 732.03,399.67 734.73,400.07 737.43,400.46 740.13,400.82 742.83,401.18 745.53,401.52 748.23,401.84 750.93,402.14 753.63,402.43 756.33,402.70 759.03,402.96 761.73,403.20 764.43,403.42 767.13,403.63 769.83,403.81 772.53,403.99 775.23,404.14 777.93,404.28 780.63,404.40 783.33,404.51 786.03,404.59 788.73,404.66 791.43,404.72 794.13,404.75 796.83,404.77 799.53,404.77 802.23,404.76 804.93,404.72 807.63,404.68 810.33,404.61 813.03,404.52 815.73,404.42 818.43,404.31 821.13,404.17 823.83,404.02 826.53,403.85 829.23,403.66 831.93,403.46 834.64,403.24 837.34,403.01 840.04,402.75 842.74,402.49 845.44,402.20 848.14,401.90 850.84,401.58 853.54,401.25 856.24,400.90 858.94,400.53 861.64,400.15 864.34,399.75 867.04,399.34 869.74,398.91 872.44,398.46 875.14,398.01 877.84,397.53 880.54,397.04 883.24,396.54 885.94,396.02 888.64,395.49 891.34,394.94 894.04,394.38 896.74,393.80 899.44,393.21 902.14,392.61 904.84,391.99 907.54,391.36 910.24,390.72 912.94,390.06 915.64,389.40 918.34,388.72 921.04,388.02 923.74,387.32 926.44,386.60 929.14,385.87 931.84,385.13 934.54,384.38 937.24,383.62 939.94,382.85 942.64,382.07 945.34,381.27 948.04,380.47 950.74,379.66 953.44,378.83 956.14,378.00 958.84,377.16 961.54,376.31 964.24,375.46 966.94,374.59 969.64,373.72 972.34,372.83 975.04,371.95 977.74,371.05 980.44,370.15 983.14,369.24 985.84,368.32 988.54,367.40 991.24,366.47 993.94,365.54 996.64,364.60 999.34,363.66 1002.04,362.71 1004.74,361.76 1007.44,360.80 1010.14,359.84 1012.84,358.88 1015.54,357.91 1018.24,356.94 1020.94,355.97 1023.64,355.00 1026.34,354.02 1029.04,353.04 1031.74,352.07 1034.44,351.09 1037.14,350.10 1039.84,349.12 1042.54,348.14 1045.24,347.16 1047.94,346.18 1050.65,345.20" fill="none" stroke="#6CA030" stroke-width="2.25" stroke-linejoin="round"/>
<polyline points="81.30,349.27 84.00,348.73 86.70,348.19 89.40,347.66 92.10,347.12 94.80,346.59 97.50,346.05 100.20,345.52 102.90,344.99 105.60,344.46 108.30,343.93 111.00,343.40 113.70,342.88 116.40,342.36 119.10,341.84 121.80,341.32 124.50,340.80 127.20,340.29 129.90,339.78 132.60,339.27 135.30,338.76 138.00,338.26 140.70,337.77 143.40,337.27 146.10,336.78 148.80,336.29 151.50,335.81 154.20,335.33 156.90,334.86 159.60,334.39 162.30,333.92 165.00,333.46 167.70,333.01 170.40,332.56 173.10,332.11 175.80,331.67 178.50,331.23 181.20,330.81 183.90,330.38 186.61,329.96 189.31,329.55 192.01,329.15 194.71,328.75 197.41,328.35 200.11,327.97 202.81,327.59 205.51,327.21 208.21,326.85 210.91,326.48 213.61,326.13 216.31,325.79 219.01,325.45 221.71,325.12 224.41,324.79 227.11,324.48 229.81,324.17 232.51,323.87 235.21,323.57 237.91,323.29 240.61,323.01 243.31,322.74 246.01,322.48 248.71,322.22 251.41,321.98 254.11,321.74 256.81,321.51 259.51,321.30 262.21,321.08 264.91,320.88 267.61,320.69 270.31,320.50 273.01,320.33 275.71,320.16 278.41,320.00 281.11,319.85 283.81,319.71 286.51,319.58 289.21,319.46 291.91,319.35 294.61,319.24 297.31,319.15 300.01,319.06 302.71,318.99 305.41,318.92 308.11,318.86 310.81,318.81 313.51,318.77 316.21,318.74 318.91,318.72 321.61,318.71 324.31,318.71 327.01,318.72 329.71,318.74 332.41,318.76 335.11,318.80 337.81,318.85 340.51,318.90 343.21,318.96 345.91,319.04 348.61,319.12 351.31,319.21 354.01,319.31 356.71,319.42 359.41,319.54 362.11,319.67 364.81,319.81 367.51,319.95 370.21,320.11 372.91,320.27 375.61,320.45 378.31,320.63 381.01,320.82 383.71,321.02 386.41,321.23 389.11,321.44 391.81,321.67 394.51,321.90 397.21,322.15 399.91,322.40 402.62,322.65 405.32,322.92 408.02,323.20 410.72,323.48 413.42,323.77 416.12,324.07 418.82,324.38 421.52,324.69 424.22,325.01 426.92,325.34 429.62,325.68 432.32,326.02 435.02,326.37 437.72,326.73 440.42,327.09 443.12,327.47 445.82,327.84 448.52,328.23 451.22,328.62 453.92,329.02 456.62,329.42 459.32,329.83 462.02,330.25 464.72,330.67 467.42,331.10 470.12,331.53 472.82,331.97 475.52,332.41 478.22,332.86 480.92,333.32 483.62,333.77 486.32,334.24 489.02,334.71 491.72,335.18 494.42,335.66 497.12,336.14 499.82,336.62 502.52,337.11 505.22,337.61 507.92,338.10 510.62,338.60 513.32,339.11 516.02,339.61 518.72,340.12 521.42,340.64 524.12,341.15 526.82,341.67 529.52,342.19 532.22,342.71 534.92,343.24 537.62,343.76 540.32,344.29 543.02,344.82 545.72,345.35 548.42,345.88 551.12,346.42 553.82,346.95 556.52,347.49 559.22,348.02 561.92,348.56 564.62,349.09 567.32,349.63 570.02,350.17 572.72,350.70 575.42,351.24 578.12,351.77 580.82,352.31 583.52,352.84 586.22,353.38 588.92,353.91 591.62,354.44 594.32,354.97 597.02,355.49 599.72,356.02 602.42,356.54 605.12,357.06 607.82,357.58 610.52,358.10 613.22,358.61 615.92,359.12 618.63,359.63 621.33,360.13 624.03,360.63 626.73,361.13 629.43,361.63 632.13,362.12 634.83,362.60 637.53,363.09 640.23,363.56 642.93,364.04 645.63,364.51 648.33,364.97 651.03,365.43 653.73,365.89 656.43,366.34 659.13,366.79 661.83,367.23 664.53,367.66 667.23,368.09 669.93,368.52 672.63,368.93 675.33,369.34 678.03,369.75 680.73,370.15 683.43,370.54 686.13,370.93 688.83,371.31 691.53,371.68 694.23,372.05 696.93,372.41 699.63,372.76 702.33,373.11 705.03,373.45 707.73,373.78 710.43,374.10 713.13,374.42 715.83,374.73 718.53,375.03 721.23,375.33 723.93,375.61 726.63,375.89 729.33,376.16 732.03,376.42 734.73,376.67 737.43,376.92 740.13,377.15 742.83,377.38 745.53,377.60 748.23,377.81 750.93,378.01 753.63,378.21 756.33,378.39 759.03,378.57 761.73,378.74 764.43,378.89 767.13,379.04 769.83,379.18 772.53,379.32 775.23,379.44 777.93,379.55 780.63,379.65 783.33,379.75 786.03,379.83 788.73,379.91 791.43,379.98 794.13,380.03 796.83,380.08 799.53,380.12 802.23,380.15 804.93,380.17 807.63,380.18 810.33,380.18 813.03,380.18 815.73,380.16 818.43,380.13 821.13,380.10 823.83,380.05 826.53,380.00 829.23,379.93 831.93,379.86 834.64,379.78 837.34,379.69 840.04,379.58 842.74,379.47 845.44,379.36 848.14,379.23 850.84,379.09 853.54,378.94 856.24,378.79 858.94,378.62 861.64,378.45 864.34,378.27 867.04,378.08 869.74,377.88 872.44,377.67 875.14,377.45 877.84,377.23 880.54,376.99 883.24,376.75 885.94,376.50 888.64,376.24 891.34,375.98 894.04,375.70 896.74,375.42 899.44,375.13 902.14,374.83 904.84,374.52 907.54,374.21 910.24,373.89 912.94,373.56 915.64,373.22 918.34,372.88 921.04,372.53 923.74,372.17 926.44,371.80 929.14,371.43 931.84,371.05 934.54,370.67 937.24,370.28 939.94,369.88 942.64,369.48 945.34,369.07 948.04,368.65 950.74,368.23 953.44,367.80 956.14,367.37 958.84,366.93 961.54,366.48 964.24,366.04 966.94,365.58 969.64,365.12 972.34,364.66 975.04,364.19 977.74,363.72 980.44,363.24 983.14,362.76 985.84,362.27 988.54,361.78 991.24,361.29 993.94,360.79 996.64,360.29 999.34,359.79 1002.04,359.28 1004.74,358.77 1007.44,358.26 1010.14,357.74 1012.84,357.23 1015.54,356.71 1018.24,356.18 1020.94,355.66 1023.64,355.13 1026.34,354.61 1029.04,354.08 1031.74,353.55 1034.44,353.01 1037.14,352.48 1039.84,351.95 1042.54,351.41 1045.24,350.87 1047.94,350.34 1050.65,349.80" fill="none" stroke="#49B4E2" stroke-width="2.25" stroke-linejoin="round"/>
<polyline points="81.30,355.48 84.00,354.75 86.70,354.01 89.40,353.27 92.10,352.53 94.80,351.80 97.50,351.06 100.20,350.33 102.90,349.59 105.60,348.86 108.30,348.13 111.00,347.40 113.70,346.67 116.40,345.95 119.10,345.23 121.80,344.51 124.50,343.79 127.20,343.08 129.90,342.37 132.60,341.67 135.30,340.96 138.00,340.27 140.70,339.57 143.40,338.88 146.10,338.20 148.80,337.52 151.50,336.85 154.20,336.18 156.90,335.52 159.60,334.86 162.30,334.21 165.00,333.56 167.70,332.92 170.40,332.29 173.10,331.67 175.80,331.05 178.50,330.43 181.20,329.83 183.90,329.23 186.61,328.64 189.31,328.06 192.01,327.49 194.71,326.92 197.41,326.37 200.11,325.82 202.81,325.28 205.51,324.75 208.21,324.23 210.91,323.72 213.61,323.21 216.31,322.72 219.01,322.23 221.71,321.76 224.41,321.30 227.11,320.84 229.81,320.40 232.51,319.96 235.21,319.54 237.91,319.13 240.61,318.73 243.31,318.34 246.01,317.96 248.71,317.59 251.41,317.23 254.11,316.88 256.81,316.55 259.51,316.22 262.21,315.91 264.91,315.61 267.61,315.32 270.31,315.05 273.01,314.78 275.71,314.53 278.41,314.29 281.11,314.06 283.81,313.85 286.51,313.64 289.21,313.45 291.91,313.28 294.61,313.11 297.31,312.96 300.01,312.82 302.71,312.69 305.41,312.57 308.11,312.47 310.81,312.38 313.51,312.30 316.21,312.24 318.91,312.19 321.61,312.15 324.31,312.12 327.01,312.11 329.71,312.11 332.41,312.12 335.11,312.15 337.81,312.19 340.51,312.24 343.21,312.30 345.91,312.38 348.61,312.47 351.31,312.57 354.01,312.69 356.71,312.82 359.41,312.96 362.11,313.11 364.81,313.28 367.51,313.45 370.21,313.64 372.91,313.85 375.61,314.06 378.31,314.29 381.01,314.53 383.71,314.78 386.41,315.05 389.11,315.32 391.81,315.61 394.51,315.91 397.21,316.22 399.91,316.55 402.62,316.88 405.32,317.23 408.02,317.59 410.72,317.96 413.42,318.34 416.12,318.73 418.82,319.13 421.52,319.54 424.22,319.96 426.92,320.40 429.62,320.84 432.32,321.30 435.02,321.76 437.72,322.23 440.42,322.72 443.12,323.21 445.82,323.72 448.52,324.23 451.22,324.75 453.92,325.28 456.62,325.82 459.32,326.37 462.02,326.92 464.72,327.49 467.42,328.06 470.12,328.64 472.82,329.23 475.52,329.83 478.22,330.43 480.92,331.05 483.62,331.67 486.32,332.29 489.02,332.92 491.72,333.56 494.42,334.21 497.12,334.86 499.82,335.52 502.52,336.18 505.22,336.85 507.92,337.52 510.62,338.20 513.32,338.88 516.02,339.57 518.72,340.27 521.42,340.96 524.12,341.67 526.82,342.37 529.52,343.08 532.22,343.79 534.92,344.51 537.62,345.23 540.32,345.95 543.02,346.67 545.72,347.40 548.42,348.13 551.12,348.86 553.82,349.59 556.52,350.33 559.22,351.06 561.92,351.80 564.62,352.53 567.32,353.27 570.02,354.01 572.72,354.75 575.42,355.48 578.12,356.22 580.82,356.96 583.52,357.69 586.22,358.43 588.92,359.16 591.62,359.89 594.32,360.62 597.02,361.35 599.72,362.08 602.42,362.80 605.12,363.53 607.82,364.24 610.52,364.96 613.22,365.67 615.92,366.38 618.63,367.09 621.33,367.79 624.03,368.49 626.73,369.18 629.43,369.87 632.13,370.55 634.83,371.23 637.53,371.91 640.23,372.57 642.93,373.24 645.63,373.89 648.33,374.55 651.03,375.19 653.73,375.83 656.43,376.46 659.13,377.09 661.83,377.71 664.53,378.32 667.23,378.92 669.93,379.52 672.63,380.11 675.33,380.69 678.03,381.26 680.73,381.83 683.43,382.38 686.13,382.93 688.83,383.47 691.53,384.00 694.23,384.52 696.93,385.04 699.63,385.54 702.33,386.03 705.03,386.52 707.73,386.99 710.43,387.46 713.13,387.91 715.83,388.35 718.53,388.79 721.23,389.21 723.93,389.62 726.63,390.03 729.33,390.42 732.03,390.80 734.73,391.17 737.43,391.52 740.13,391.87 742.83,392.20 745.53,392.53 748.23,392.84 750.93,393.14 753.63,393.43 756.33,393.70 759.03,393.97 761.73,394.22 764.43,394.46 767.13,394.69 769.83,394.90 772.53,395.11 775.23,395.30 777.93,395.48 780.63,395.64 783.33,395.80 786.03,395.94 788.73,396.07 791.43,396.18 794.13,396.28 796.83,396.37 799.53,396.45 802.23,396.52 804.93,396.57 807.63,396.61 810.33,396.63 813.03,396.64 815.73,396.64 818.43,396.63 821.13,396.61 823.83,396.57 826.53,396.52 829.23,396.45 831.93,396.37 834.64,396.28 837.34,396.18 840.04,396.07 842.74,395.94 845.44,395.80 848.14,395.64 850.84,395.48 853.54,395.30 856.24,395.11 858.94,394.90 861.64,394.69 864.34,394.46 867.04,394.22 869.74,393.97 872.44,393.70 875.14,393.43 877.84,393.14 880.54,392.84 883.24,392.53 885.94,392.20 888.64,391.87 891.34,391.52 894.04,391.17 896.74,390.80 899.44,390.42 902.14,390.03 904.84,389.62 907.54,389.21 910.24,388.79 912.94,388.35 915.64,387.91 918.34,387.46 921.04,386.99 923.74,386.52 926.44,386.03 929.14,385.54 931.84,385.04 934.54,384.52 937.24,384.00 939.94,383.47 942.64,382.93 945.34,382.38 948.04,381.83 950.74,381.26 953.44,380.69 956.14,380.11 958.84,379.52 961.54,378.92 964.24,378.32 966.94,377.71 969.64,377.09 972.34,376.46 975.04,375.83 977.74,375.19 980.44,374.55 983.14,373.89 985.84,373.24 988.54,372.57 991.24,371.91 993.94,371.23 996.64,370.55 999.34,369.87 1002.04,369.18 1004.74,368.49 1007.44,367.79 1010.14,367.09 1012.84,366.38 1015.54,365.67 1018.24,364.96 1020.94,364.24 1023.64,363.53 1026.34,362.80 1029.04,362.08 1031.74,361.35 1034.44,360.62 1037.14,359.89 1039.84,359.16 1042.54,358.43 1045.24,357.69 1047.94,356.96 1050.65,356.22" fill="none" stroke="#95182E" stroke-width="2.25" stroke-linejoin="round"/>
<rect x="1104.15" y="49.70" width="48.45" height="160.20" fill="#fff" stroke="#3b3c3f" stroke-width="2.05"/>
<line x1="1105.9" y1="61.40" x2="1128.3" y2="61.40" stroke="#1A6AB0" stroke-width="2.1"/>
<line x1="1105.9" y1="84.13" x2="1128.3" y2="84.13" stroke="#CE5226" stroke-width="2.1"/>
<line x1="1105.9" y1="106.86" x2="1128.3" y2="106.86" stroke="#E6AC2A" stroke-width="2.1"/>
<line x1="1105.9" y1="129.59" x2="1128.3" y2="129.59" stroke="#772E86" stroke-width="2.1"/>
<line x1="1105.9" y1="152.32" x2="1128.3" y2="152.32" stroke="#6CA030" stroke-width="2.1"/>
<line x1="1105.9" y1="175.05" x2="1128.3" y2="175.05" stroke="#49B4E2" stroke-width="2.1"/>
<line x1="1105.9" y1="197.78" x2="1128.3" y2="197.78" stroke="#95182E" stroke-width="2.1"/>
</svg>
<div class="t" id="title" style="left:618.9px;top:4.8px;font-size:22px;letter-spacing:0.6px;font-weight:bold;transform-origin:50% 0;transform:translateX(-50%) scaleY(1.085);color:#38383a">V2_JAPAN_10m Dependence of traverse coil currents on angle</div>
<div class="t xt" style="left:78.6px">0</div>
<div class="t xt" style="left:213.6px">50</div>
<div class="t xt" style="left:348.6px">100</div>
<div class="t xt" style="left:483.6px">150</div>
<div class="t xt" style="left:618.6px">200</div>
<div class="t xt" style="left:753.6px">250</div>
<div class="t xt" style="left:888.6px">300</div>
<div class="t xt" style="left:1023.6px">350</div>
<div class="t xt" style="left:1158.7px">400</div>
<div class="t yt" style="top:654.2px;">-3000</div>
<div class="t yt" style="top:552.6px;">-2000</div>
<div class="t yt" style="top:451.0px;">-1000</div>
<div class="t yt" style="top:349.4px; margin-right:-1.2px;">0</div>
<div class="t yt" style="top:247.8px;">1000</div>
<div class="t yt" style="top:146.2px;">2000</div>
<div class="t yt" style="top:44.5px;">3000</div>
<div class="t" id="xl" style="left:618.5px;top:693px;font-size:20.2px;letter-spacing:0.45px;-webkit-text-stroke:0.3px currentColor;transform:translateX(-50%)">angle [<span style="font-size:17px;position:relative;top:-10.2px">o</span>]</div>
<div class="t" id="yl" style="left:15.9px;top:348.2px;font-size:19.8px;letter-spacing:0.55px;-webkit-text-stroke:0.2px currentColor;transform:translate(-50%,-50%) rotate(-90deg)">coil currents</div>
<div class="t lg" style="top:62.2px">T1</div>
<div class="t lg" style="top:84.9px">T2</div>
<div class="t lg" style="top:107.7px">T3</div>
<div class="t lg" style="top:130.4px">T4</div>
<div class="t lg" style="top:153.1px">T5</div>
<div class="t lg" style="top:175.9px">T6</div>
<div class="t lg" style="top:198.6px">T7</div>
</body></html>
